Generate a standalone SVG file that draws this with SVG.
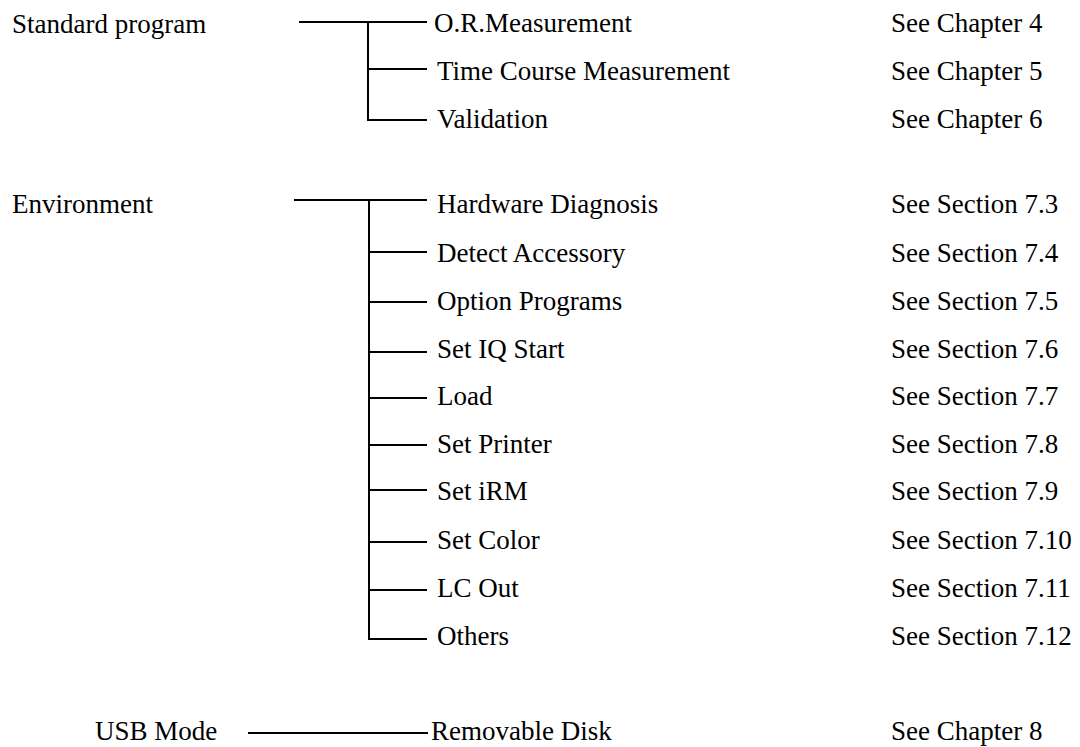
<svg xmlns="http://www.w3.org/2000/svg" width="1080" height="747" viewBox="0 0 1080 747">
<style>
text{font-family:'Liberation Serif',Tinos,Times,serif;font-size:27px;fill:#000}
.c line{stroke:#000;stroke-width:2}
</style>
<rect width="1080" height="747" fill="#fff"/>
<g class="c" id="connectors">
<line x1="299" y1="22" x2="427" y2="22"/>
<line x1="368" y1="22" x2="368" y2="121"/>
<line x1="368" y1="69" x2="427" y2="69"/>
<line x1="368" y1="120" x2="427" y2="120"/>
<line x1="294" y1="200" x2="427" y2="200"/>
<line x1="369" y1="200" x2="369" y2="640"/>
<line x1="369" y1="252" x2="427" y2="252"/>
<line x1="369" y1="302" x2="427" y2="302"/>
<line x1="369" y1="352" x2="427" y2="352"/>
<line x1="369" y1="398" x2="427" y2="398"/>
<line x1="369" y1="445" x2="427" y2="445"/>
<line x1="369" y1="490" x2="427" y2="490"/>
<line x1="369" y1="542" x2="427" y2="542"/>
<line x1="369" y1="590" x2="427" y2="590"/>
<line x1="369" y1="639" x2="427" y2="639"/>
<line x1="248" y1="733" x2="428" y2="733"/>
</g>
<g id="standard"><text x="12" y="33">Standard program</text></g>
<g id="or"><text x="434" y="32">O.R.Measurement</text><text x="891" y="32">See Chapter 4</text></g>
<g id="time"><text x="437" y="80">Time Course Measurement</text><text x="891" y="80">See Chapter 5</text></g>
<g id="validation"><text x="437" y="128">Validation</text><text x="891" y="128">See Chapter 6</text></g>
<g id="environment"><text x="12" y="213">Environment</text></g>
<g id="hw"><text x="437" y="213">Hardware Diagnosis</text><text x="891" y="213">See Section 7.3</text></g>
<g id="detect"><text x="437" y="262">Detect Accessory</text><text x="891" y="262">See Section 7.4</text></g>
<g id="option"><text x="437" y="310">Option Programs</text><text x="891" y="310">See Section 7.5</text></g>
<g id="iq"><text x="437" y="358">Set IQ Start</text><text x="891" y="358">See Section 7.6</text></g>
<g id="load"><text x="437" y="405">Load</text><text x="891" y="405">See Section 7.7</text></g>
<g id="printer"><text x="437" y="453">Set Printer</text><text x="891" y="453">See Section 7.8</text></g>
<g id="irm"><text x="437" y="500">Set iRM</text><text x="891" y="500">See Section 7.9</text></g>
<g id="color"><text x="437" y="549">Set Color</text><text x="891" y="549">See Section 7.10</text></g>
<g id="lc"><text x="437" y="597">LC Out</text><text x="891" y="597">See Section 7.11</text></g>
<g id="others"><text x="437" y="645">Others</text><text x="891" y="645">See Section 7.12</text></g>
<g id="usb"><text x="95" y="740">USB Mode</text></g>
<g id="disk"><text x="431" y="740">Removable Disk</text><text x="891" y="740">See Chapter 8</text></g>
</svg>
